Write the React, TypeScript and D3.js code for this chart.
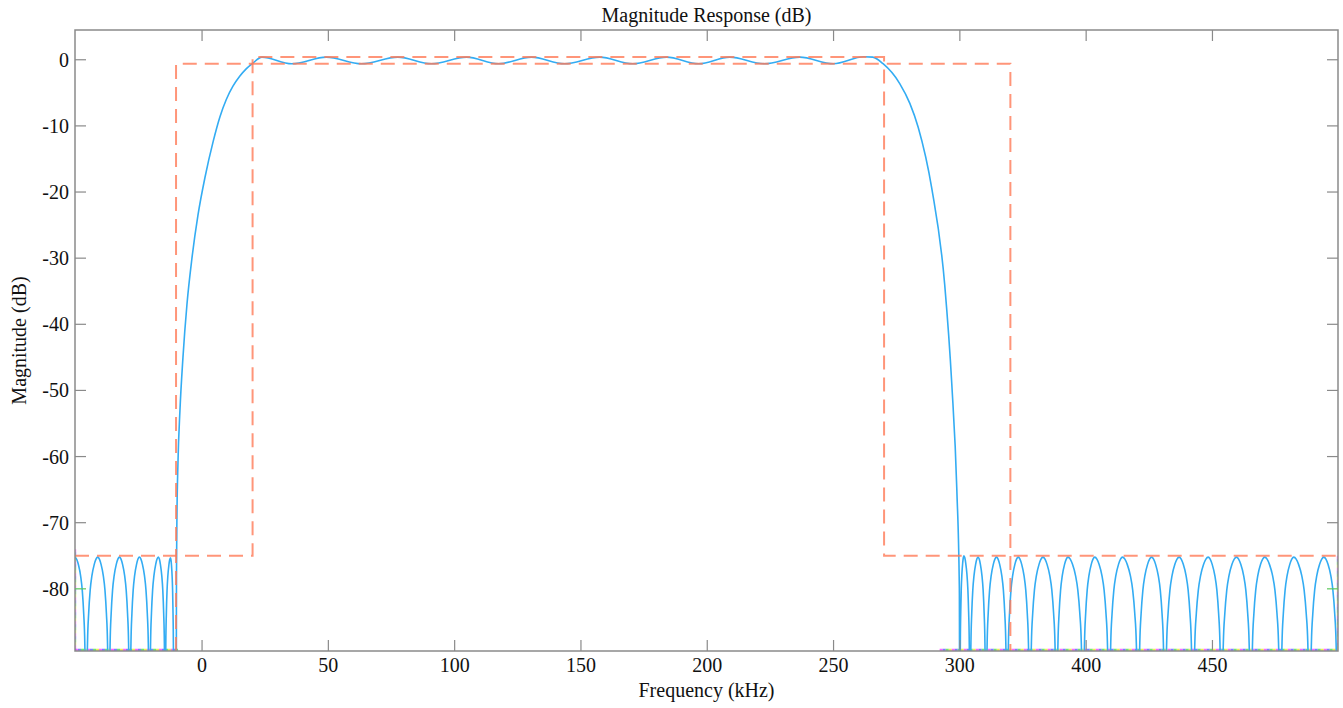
import React, { useEffect, useRef } from 'react';
import * as d3 from 'd3';

// axis ticks as they appear in the source plot (its 350 label is missing, so labels shift)
const xTickValues = [0, 50, 100, 150, 200, 250, 300, 350, 400];
const xTickLabels = ['0', '50', '100', '150', '200', '250', '300', '400', '450'];
const yTickValues = [0, -10, -20, -30, -40, -50, -60, -70, -80];

// rising edge, passband ripple, falling edge  [kHz, dB]
const passband: [number, number][] = [
  [-10.3, -115], [-10.13, -78], [-9.94, -69], [-9.54, -61], [-8.75, -53],
  [-7.56, -45], [-5.98, -37], [-4.0, -30], [-1.62, -23.5], [1.15, -17.8],
  [4.43, -12.3], [7.09, -8.6], [9.6, -6.0], [12.23, -4.0], [14.9, -2.5],
  [17.66, -1.3], [20.15, -0.5], [23.7, 0.4],
  [35.5, -0.6], [49.2, 0.4], [63.1, -0.6], [77.5, 0.4], [90.8, -0.6],
  [104.7, 0.4], [117.4, -0.6], [130.4, 0.4], [143.5, -0.6], [157.4, 0.4],
  [170.5, -0.6], [183.9, 0.4], [196.6, -0.6], [208.9, 0.4], [222.6, -0.6],
  [236.6, 0.4], [249.9, -0.6], [262, 0.45], [265.5, 0.4],
  [269.6, -0.6], [276.2, -3.6], [280.2, -6.6], [283.5, -10.2], [288.9, -19.5],
  [294.0, -34], [296.8, -49], [298.8, -65], [299.8, -80],
];

// stopband sidelobes: null positions and the peaks between them
const leftNulls = [-54.5, -45.9, -36.9, -28.6, -20.8, -14.6, -11.2];
const leftPeaks = [-50.2, -41.3, -32.7, -24.8, -17.3, -12.5];
const leftPeakDb = [-75.3, -75.2, -75.2, -75.2, -75.2, -75.3];

const rightNulls = [300.0, 304.0, 310.3, 318.7, 327.7, 338.3, 348.8, 359.1, 370.6, 381.2, 392.3, 403.6, 415.2, 426.9, 438.5, 449.6];
const rightPeaks = [301.6, 307.2, 314.5, 323.1, 332.9, 342.8, 353.4, 364.4, 375.9, 386.8, 398.3, 409.5, 420.7, 432.2, 444.1];
const rightPeakDb = [-75.0, -75.2, -75.2, -75.2, -75.2, -75.2, -75.2, -75.2, -75.2, -75.2, -75.2, -75.2, -75.2, -75.2, -75.2];

// profile of one sidelobe: [fraction null->peak, dB below peak]
const lobeShape: [number, number][] = [
  [0, -40], [0.06, -20], [0.12, -13], [0.22, -8.5], [0.35, -5],
  [0.5, -2.8], [0.7, -1.1], [0.85, -0.3], [1, 0],
];

// spec mask lines
const upperMaskF = [-50.3, 20, 20, 270, 270, 449.7];
const upperMaskDb = [-75, -75, 0.4, 0.4, -75, -75];
const lowerMaskF = [-10.3, -10.3, 320, 320];
const lowerMaskDb = [-89.4, -0.6, -0.6, -89.4];

const xDomain = [-50.3, 449.7];
const yDomain = [-89.4, 4.5];

function lobes(nulls: number[], peaks: number[], peakDb: number[]) {
  const pts: [number, number][] = [];
  peaks.forEach((p, i) => {
    const a = nulls[i];
    const b = nulls[i + 1];
    lobeShape.forEach(([t, d]) => {
      if (i > 0 && t === 0) return;
      pts.push([a + t * (p - a), peakDb[i] + d]);
    });
    lobeShape.slice(0, -1).reverse().forEach(([t, d]) => {
      pts.push([b - t * (b - p), peakDb[i] + d]);
    });
  });
  return pts;
}

export default function App() {
  const svgRef = useRef<SVGSVGElement>(null);

  useEffect(() => {
    if (!svgRef.current) return;
    const W = 1343, H = 708;
    const left = 75, right = 1338, top = 30, bottom = 651;

    const x = d3.scaleLinear().domain(xDomain).range([left, right]);
    const y = d3.scaleLinear().domain(yDomain).range([bottom, top]);

    const svg = d3.select(svgRef.current);
    svg.selectAll('*').remove();
    svg.attr('width', W).attr('height', H);

    svg.append('rect').attr('width', W).attr('height', H).attr('fill', '#fff');

    svg.append('defs').append('clipPath').attr('id', 'plotclip')
      .append('rect').attr('x', left).attr('y', top)
      .attr('width', right - left).attr('height', bottom - top);

    const plot = svg.append('g').attr('clip-path', 'url(#plotclip)');

    const response = [
      ...lobes(leftNulls, leftPeaks, leftPeakDb),
      ...passband,
      ...lobes(rightNulls, rightPeaks, rightPeakDb),
    ];

    const line = d3.line<[number, number]>()
      .x(d => x(d[0]))
      .y(d => y(d[1]))
      .curve(d3.curveMonotoneX);

    // clipped traces along the bottom edge (multicolour specks)
    const specks = ['#ff40ff', '#e8e830', '#50e050', '#6060ff'];
    const speckRanges = [[-50.3, -9.5], [292, 449.7]];
    speckRanges.forEach(r => {
      specks.forEach((c, i) => {
        plot.append('line')
          .attr('x1', x(r[0])).attr('x2', x(r[1]))
          .attr('y1', y(yDomain[0]) - 1).attr('y2', y(yDomain[0]) - 1)
          .attr('stroke', c).attr('stroke-width', 2.5)
          .attr('stroke-dasharray', '3 9').attr('stroke-dashoffset', i * 3)
          .attr('opacity', 0.8);
      });
    });
    [[xDomain[0], -74], [xDomain[1], -75]].forEach(([f, d]) => {
      specks.forEach((c, i) => {
        plot.append('line')
          .attr('x1', x(f)).attr('x2', x(f))
          .attr('y1', y(d)).attr('y2', y(yDomain[0]))
          .attr('stroke', c).attr('stroke-width', 2.5)
          .attr('stroke-dasharray', '3 9').attr('stroke-dashoffset', i * 3)
          .attr('opacity', 0.6);
      });
    });

    plot.append('path')
      .datum(response)
      .attr('d', line)
      .attr('fill', 'none')
      .attr('stroke', '#33acf3')
      .attr('stroke-width', 1.6);

    const drawMask = (fs: number[], dbs: number[]) => {
      const pts: [number, number][] = fs.map((f, i) => [f, dbs[i]]);
      plot.append('path')
        .datum(pts)
        .attr('d', d3.line<[number, number]>().x(d => x(d[0])).y(d => y(d[1])))
        .attr('fill', 'none')
        .attr('stroke', '#ff7a58')
        .attr('stroke-opacity', 0.8)
        .attr('stroke-width', 2)
        .attr('stroke-dasharray', '14 8');
    };
    drawMask(upperMaskF, upperMaskDb);
    drawMask(lowerMaskF, lowerMaskDb);

    // box
    const axisColor = '#8a8a8a';
    svg.append('rect')
      .attr('x', left).attr('y', top)
      .attr('width', right - left).attr('height', bottom - top)
      .attr('fill', 'none').attr('stroke', axisColor).attr('stroke-width', 1.5);

    const tickLen = 11;
    const ticks = svg.append('g').attr('stroke', axisColor).attr('stroke-width', 1.2);
    xTickValues.forEach(v => {
      ticks.append('line').attr('x1', x(v)).attr('x2', x(v)).attr('y1', bottom).attr('y2', bottom - tickLen);
      ticks.append('line').attr('x1', x(v)).attr('x2', x(v)).attr('y1', top).attr('y2', top + tickLen);
    });
    yTickValues.forEach(v => {
      const c = v === -80 ? '#5cc85c' : axisColor;
      ticks.append('line').attr('x1', left).attr('x2', left + tickLen).attr('y1', y(v)).attr('y2', y(v)).attr('stroke', c);
      ticks.append('line').attr('x1', right).attr('x2', right - tickLen).attr('y1', y(v)).attr('y2', y(v)).attr('stroke', c);
    });

    const font = '"Liberation Serif", "Times New Roman", serif';
    const labels = svg.append('g').attr('font-family', font).attr('font-size', 20).attr('fill', '#111');

    xTickValues.forEach((v, i) => {
      labels.append('text')
        .attr('x', x(v)).attr('y', 672)
        .attr('text-anchor', 'middle')
        .text(xTickLabels[i]);
    });
    yTickValues.forEach(v => {
      labels.append('text')
        .attr('x', 69).attr('y', y(v))
        .attr('dy', '0.35em')
        .attr('text-anchor', 'end')
        .text(String(v));
    });

    labels.append('text')
      .attr('x', (left + right) / 2).attr('y', 22)
      .attr('text-anchor', 'middle')
      .text('Magnitude Response (dB)');
    labels.append('text')
      .attr('x', (left + right) / 2).attr('y', 697)
      .attr('text-anchor', 'middle')
      .text('Frequency (kHz)');
    labels.append('text')
      .attr('transform', `translate(26,${(top + bottom) / 2}) rotate(-90)`)
      .attr('text-anchor', 'middle')
      .text('Magnitude (dB)');
  }, []);

  return (
    <svg
      ref={svgRef}
      width={1343}
      height={708}
      style={{ position: 'absolute', left: 0, top: 0, display: 'block' }}
    />
  );
}
